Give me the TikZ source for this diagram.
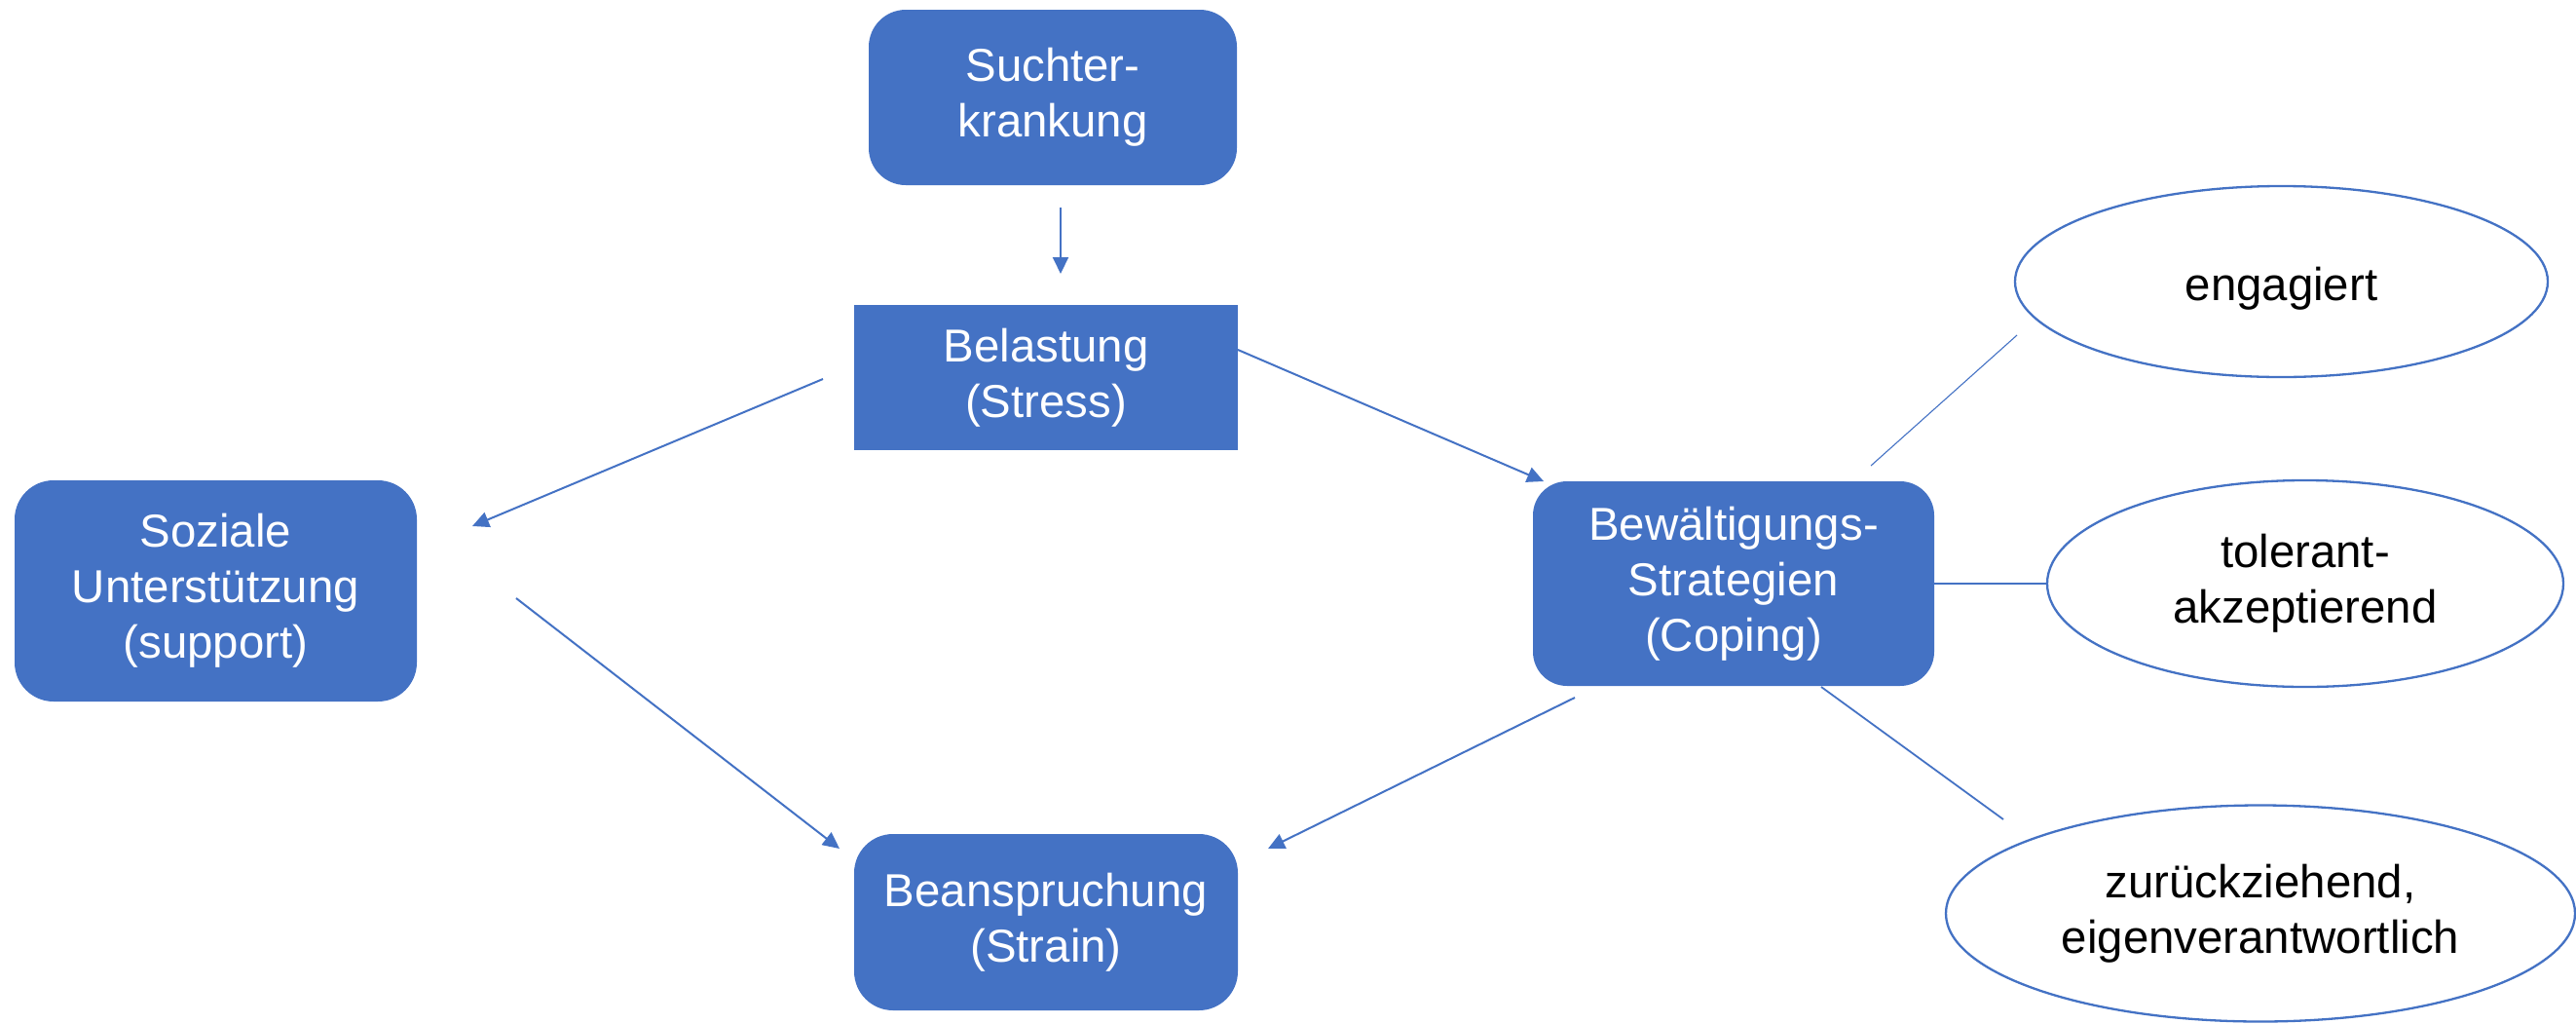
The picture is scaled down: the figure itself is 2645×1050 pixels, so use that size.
\documentclass[tikz,border=0pt]{standalone}
\usepackage{fontspec}
\setmainfont{Liberation Sans}
\usetikzlibrary{arrows.meta,shapes.geometric}
\definecolor{boxblue}{HTML}{4472C4}
\newcommand{\topstrut}{\rule{0pt}{24pt}}
\tikzset{
  txt/.style={font=\fontsize{23.7}{28.5}\selectfont, align=center, inner sep=0pt,
    execute at begin node=\topstrut},
  bluebox/.style={txt, rectangle, fill=boxblue, text=white},
  rbox/.style={bluebox, rounded corners=19pt},
  oval/.style={txt, ellipse, draw=boxblue, line width=1.15pt, fill=white, text=black},
  conn/.style={draw=boxblue, line width=1pt, -{Triangle[length=8.5pt,width=8pt]}},
  link/.style={draw=boxblue, line width=0.9pt},
  thinlink/.style={draw=boxblue, line width=0.55pt}
}
\begin{document}
\begin{tikzpicture}[x=0.5pt,y=-0.5pt]
\useasboundingbox (0,0) rectangle (2645,1050);
% nodes
\node[rbox, minimum width=189pt, minimum height=90pt] (such) at (1081,100) {Suchter-\\krankung};
\node[bluebox, minimum width=197pt, minimum height=74.5pt] (bel) at (1074,387.5) {Belastung\\(Stress)};
\node[rbox, rounded corners=20pt, minimum width=206.5pt, minimum height=113.5pt] (soz) at (221.5,606.5) {Soziale\\Unterstützung\\(support)};
\node[rbox, rounded corners=20pt, minimum width=197pt, minimum height=90.5pt] (bea) at (1074,946.5) {Beanspruchung\\(Strain)};
\node[rbox, rounded corners=17.5pt, minimum width=206pt, minimum height=105pt] (bew) at (1780,599) {Bewältigungs-\\Strategien\\(Coping)};
\node[oval, minimum width=273.5pt, minimum height=98pt] (eng) at (2342.5,289) {engagiert};
\node[oval, minimum width=265pt, minimum height=106pt] (tol) at (2367,599) {tolerant-\\akzeptierend};
\node[oval, minimum width=323pt, minimum height=111pt] (zur) at (2321,937.5) {zurückziehend,\\eigenverantwortlich};
% connector end points
\coordinate (a1s) at (1089,213);  \coordinate (a1e) at (1089,281);
\coordinate (a2s) at (845,389);   \coordinate (a2e) at (485,540);
\coordinate (a3s) at (530,614);   \coordinate (a3e) at (862,871);
\coordinate (a4s) at (1271,359);  \coordinate (a4e) at (1585,494);
\coordinate (a5s) at (1617,716);  \coordinate (a5e) at (1302,871);
\coordinate (l1s) at (1921,478);  \coordinate (l1e) at (2071,344);
\coordinate (l3s) at (1870,705);  \coordinate (l3e) at (2057,841);
% connectors
\draw[conn] (a1s) -- (a1e);
\draw[conn] (a2s) -- (a2e);
\draw[conn] (a3s) -- (a3e);
\draw[conn] (a4s) -- (a4e);
\draw[conn] (a5s) -- (a5e);
\draw[thinlink] (l1s) -- (l1e);
\draw[link] (bew.east) -- (tol.west);
\draw[link] (l3s) -- (l3e);
\end{tikzpicture}
\end{document}
